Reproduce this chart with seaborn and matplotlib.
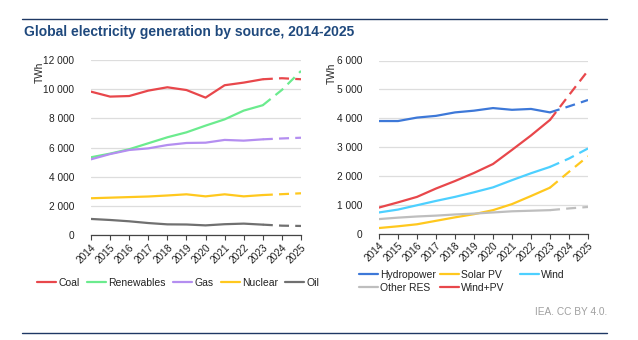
import matplotlib
matplotlib.use("Agg")
import matplotlib.pyplot as plt
from matplotlib.lines import Line2D
import seaborn as sns
import pandas as pd

sns.set_theme(style="white")
plt.rcParams['font.family'] = ['Liberation Sans', 'DejaVu Sans']

years = list(range(2014, 2026))
year_labels = [str(y) for y in years]

# Left panel (TWh)
coal = [9830, 9490, 9530, 9900, 10130, 9940, 9420, 10270, 10450, 10680, 10750, 10680]
renewables = [5330, 5580, 5880, 6290, 6700, 7040, 7500, 7930, 8530, 8900, 9950, 11250]
gas = [5190, 5550, 5830, 5940, 6170, 6310, 6330, 6520, 6470, 6560, 6620, 6670]
nuclear = [2520, 2560, 2600, 2640, 2710, 2790, 2650, 2790, 2650, 2740, 2800, 2860]
oil = [1100, 1030, 940, 820, 730, 720, 660, 740, 780, 710, 640, 620]

# Right panel (TWh)
hydropower = [3900, 3900, 4020, 4080, 4200, 4260, 4350, 4290, 4320, 4200, 4410, 4630]
solar_pv = [190, 250, 320, 440, 560, 670, 810, 1020, 1300, 1590, 2140, 2680]
wind = [730, 830, 980, 1130, 1270, 1430, 1600, 1850, 2090, 2310, 2600, 2950]
other_res = [500, 550, 590, 620, 660, 690, 730, 770, 790, 810, 870, 920]
wind_pv = [900, 1080, 1270, 1560, 1820, 2100, 2410, 2900, 3400, 3940, 4800, 5650]

last_actual = 2023

left_series = [("Coal", coal, "#E8474B"), ("Renewables", renewables, "#6BEB8E"),
               ("Gas", gas, "#B48EF0"), ("Nuclear", nuclear, "#FFC81E"),
               ("Oil", oil, "#707070")]
right_series = [("Hydropower", hydropower, "#3D78D8"), ("Solar PV", solar_pv, "#FFC81E"),
                ("Wind", wind, "#4DD0FF"), ("Other RES", other_res, "#BEBEBE"),
                ("Wind+PV", wind_pv, "#E8474B")]

fig = plt.figure(figsize=(6.38, 3.40), dpi=100)

def draw(ax, series, ymax, step):
    for name, vals, col in series:
        df = pd.DataFrame({"year": years, "value": vals})
        act = df[df.year <= last_actual]
        fc = df[df.year >= last_actual]
        sns.lineplot(data=act, x="year", y="value", ax=ax, color=col, lw=1.6)
        sns.lineplot(data=fc, x="year", y="value", ax=ax, color=col, lw=1.6)
        ax.lines[-1].set_linestyle((0, (4.5, 2.8)))
    ax.set_xlim(2014, 2025)
    ax.set_ylim(0, ymax)
    ax.set_yticks(range(0, ymax + 1, step))
    ax.set_yticklabels([f"{v:,}".replace(",", " ") for v in range(0, ymax + 1, step)],
                       fontsize=7.3, color="#222222")
    ax.set_xticks(years)
    ax.set_xticklabels(year_labels, rotation=45, ha="right", rotation_mode="anchor",
                       fontsize=7.3, color="#222222")
    ax.grid(axis="y", color="#DDDDDD", lw=0.9)
    ax.set_axisbelow(True)
    for s in ["top", "right", "left"]:
        ax.spines[s].set_visible(False)
    ax.spines["bottom"].set_color("#444444")
    ax.spines["bottom"].set_linewidth(0.9)
    ax.tick_params(axis="x", which="major", bottom=True, length=3.5, width=0.8,
                   color="#444444", pad=1.5)
    ax.tick_params(axis="y", left=False, pad=6)
    ax.set_xlabel("")
    ax.set_ylabel("")

ax1 = fig.add_axes([91 / 638, 105 / 340, 210 / 638, 175 / 340])
draw(ax1, left_series, 12000, 2000)
ax2 = fig.add_axes([379 / 638, 106.5 / 340, 209 / 638, 173 / 340])
draw(ax2, right_series, 6000, 1000)

fig.text(40 / 638, 1 - 72 / 340, "TWh", rotation=90, fontsize=7.3, ha="center",
         va="center", color="#222222")
fig.text(332 / 638, 1 - 73 / 340, "TWh", rotation=90, fontsize=7.3, ha="center",
         va="center", color="#222222")

fig.text(24 / 638, 1 - 32 / 340, "Global electricity generation by source, 2014-2025",
         fontsize=10, fontweight="bold", color="#1F497D", ha="left", va="center")

navy = "#1F3864"
fig.add_artist(Line2D([22 / 638, 607 / 638], [1 - 19 / 340, 1 - 19 / 340],
                      color=navy, lw=1.0))
fig.add_artist(Line2D([22 / 638, 607 / 638], [1 - 333 / 340, 1 - 333 / 340],
                      color=navy, lw=1.0))

def handles(series):
    return [Line2D([0], [0], color=c, lw=1.6) for _, _, c in series]

legs = []
legs.append(fig.legend(handles(left_series), [n for n, _, _ in left_series],
                       loc="center left", bbox_to_anchor=(37 / 638, 1 - 283 / 340),
                       ncol=5, frameon=False, fontsize=7.5, handlelength=1.8,
                       handletextpad=0.25, columnspacing=0.7, borderaxespad=0,
                       borderpad=0))

# Right legend: three fixed-position columns
cols = [([right_series[0], right_series[3]], 359),
        ([right_series[1], right_series[4]], 440),
        ([right_series[2]], 520)]
for ser, x in cols:
    legs.append(fig.legend(handles(ser), [n for n, _, _ in ser],
                           loc="upper left", bbox_to_anchor=(x / 638, 1 - 270 / 340),
                           ncol=1, frameon=False, fontsize=7.5, handlelength=1.8,
                           handletextpad=0.25, borderaxespad=0, borderpad=0,
                           labelspacing=0.25))
for leg in legs:
    for t in leg.get_texts():
        t.set_color("#222222")

fig.text(607 / 638, 1 - 312 / 340, "IEA. CC BY 4.0.", fontsize=7.3, color="#A0A0A0",
         ha="right", va="center")

fig.savefig("out.png", dpi=100)
